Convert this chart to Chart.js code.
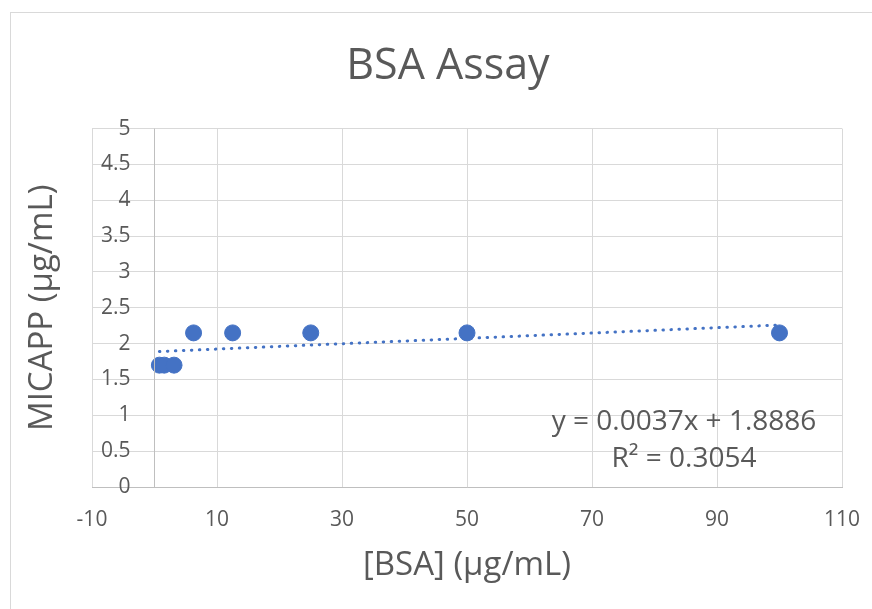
<!DOCTYPE html>
<html>
<head>
<meta charset="utf-8">
<script src="https://cdn.jsdelivr.net/npm/chart.js@4/dist/chart.umd.min.js"></script>
<style>
  html, body { margin: 0; padding: 0; background: #fff; }
  #wrap { position: absolute; left: 10px; top: 12px; width: 880px; height: 620px; border: 1px solid #d9d9d9; }
  canvas { position: absolute; left: 0; top: 0; }
</style>
</head>
<body>
<div id="wrap"></div>
<canvas id="myChart" width="872" height="609"></canvas>
<script>
// BSA standard concentrations and measured MICAPP readings
const bsaConc = [0.78, 1.56, 3.125, 6.25, 12.5, 25, 50, 100];
const micapp = [1.7, 1.7, 1.7, 2.15, 2.15, 2.15, 2.15, 2.15];
// linear trendline ends
const trendX = [0.78, 100];
const trendY = [1.89, 2.26];
const eqText = 'y = 0.0037x + 1.8886';
const r2Text = 'R\u00b2 = 0.3054';

const FONT = '"Open Sans", Lato, sans-serif';
const GREY = '#595959';
const BLUE = '#4472c4';

const points = bsaConc.map((x, i) => ({ x: x, y: micapp[i] }));
const trend = trendX.map((x, i) => ({ x: x, y: trendY[i] }));

// y labels sit next to the axis at x = 0 (excel style), plus the axis title and the equation
const extras = {
  id: 'extras',
  afterDraw(chart) {
    const ctx = chart.ctx;
    const xs = chart.scales.x, ys = chart.scales.y;
    const x0 = xs.getPixelForValue(0);
    ctx.save();
    // vertical axis line
    ctx.strokeStyle = '#bfbfbf';
    ctx.lineWidth = 1;
    ctx.beginPath();
    ctx.moveTo(x0, ys.top);
    ctx.lineTo(x0, ys.bottom);
    ctx.stroke();
    ctx.fillStyle = GREY;
    ctx.font = '21px ' + FONT;
    ctx.textAlign = 'right';
    ctx.textBaseline = 'middle';
    ys.ticks.forEach(t => {
      ctx.fillText(String(t.value), x0 - 24, ys.getPixelForValue(t.value));
    });
    ctx.font = '33px ' + FONT;
    ctx.textAlign = 'center';
    ctx.translate(43, (ys.top + ys.bottom) / 2);
    ctx.rotate(-Math.PI / 2);
    ctx.fillText('MICAPP (\u00b5g/mL)', 0, 0);
    ctx.restore();

    ctx.save();
    ctx.fillStyle = GREY;
    ctx.font = '28px ' + FONT;
    ctx.textAlign = 'center';
    ctx.textBaseline = 'middle';
    ctx.fillText(eqText, 684, 422);
    ctx.fillText(r2Text, 684, 459);
    ctx.restore();
  }
};

const config = {
  type: 'scatter',
  data: {
    datasets: [{
      label: 'MICAPP',
      data: points,
      backgroundColor: BLUE,
      borderColor: BLUE,
      pointRadius: 8,
      pointHoverRadius: 8
    }, {
      label: 'Linear trend',
      type: 'line',
      data: trend,
      borderColor: BLUE,
      borderWidth: 3,
      borderDash: [0.5, 7.5],
      borderCapStyle: 'round',
      pointRadius: 0,
      fill: false
    }]
  },
  options: {
    responsive: false,
    animation: false,
    layout: { padding: { left: 24, right: 0, top: 0, bottom: 0 } },
    plugins: {
      legend: { display: false },
      tooltip: { enabled: false },
      title: {
        display: true,
        text: 'BSA Assay',
        color: GREY,
        font: { family: FONT, size: 43, weight: 'normal' },
        padding: { top: 41, bottom: 36 }
      }
    },
    scales: {
      x: {
        type: 'linear',
        min: -10,
        max: 110,
        afterFit: (scale) => {
          scale.height = 122;
          scale.paddingLeft = 0;
          scale.paddingRight = 30;
        },
        ticks: { stepSize: 20, color: GREY, font: { family: FONT, size: 21 }, padding: 20 },
        grid: { color: '#d9d9d9', drawTicks: false },
        border: { color: '#bfbfbf' },
        title: {
          display: true,
          text: '[BSA] (\u00b5g/mL)',
          color: GREY,
          font: { family: FONT, size: 33 },
          padding: { top: 0, bottom: 24 }
        }
      },
      y: {
        min: 0,
        max: 5,
        afterFit: (scale) => { scale.width = 68; },
        ticks: { stepSize: 0.5, display: false },
        grid: { color: '#d9d9d9', drawTicks: false },
        border: { display: false }
      }
    }
  },
  plugins: [extras]
};

const myChart = new Chart(document.getElementById('myChart'), config);
</script>
</body>
</html>
